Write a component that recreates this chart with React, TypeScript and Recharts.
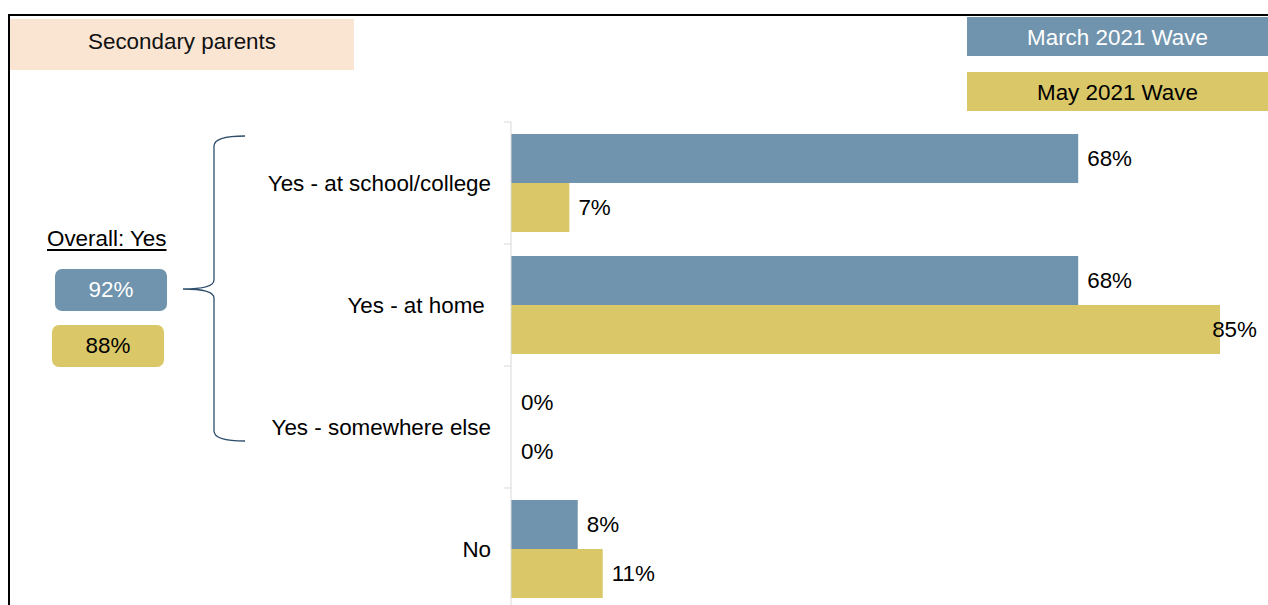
import React from "react";
import { Bar, BarChart, Cell, LabelList, XAxis, YAxis } from "recharts";

const categories = ["Yes - at school/college", "Yes - at home ", "Yes - somewhere else", "No"];
const march2021 = [68, 68, 0, 8];
const may2021 = [7, 85, 0, 11];
const overallYes = [92, 88];
const seriesNames = ["March 2021 Wave", "May 2021 Wave"];

const BLUE = "#7094AD";
const YELLOW = "#DAC868";
const FONT = "'Liberation Sans', Arial, sans-serif";
const FS = 22.4;
const LABEL_LIMIT = 1257;

const data = categories.map((c, i) => ({ category: c, march: march2021[i], may: may2021[i] }));

function CategoryTick(props: any) {
  const { x, y, payload, index } = props;
  const half = payload?.offset || 61;
  const axisX = x + 20;
  return (
    <g>
      <line x1={axisX - 7} y1={y - half} x2={axisX} y2={y - half} stroke="#D9D9D9" />
      {index === categories.length - 1 && (
        <line x1={axisX - 7} y1={y + half} x2={axisX} y2={y + half} stroke="#D9D9D9" />
      )}
      <text
        x={x}
        y={y}
        dy="0.35em"
        textAnchor="end"
        fill="#000"
        fontSize={FS}
        fontFamily={FONT}
        style={{ whiteSpace: "pre" }}
      >
        {payload.value}
      </text>
    </g>
  );
}

function ValueLabel(props: any) {
  const { x, y, width, height, value } = props;
  let tx = x + width + 9;
  let anchor: "start" | "end" = "start";
  if (tx + 44 > LABEL_LIMIT) {
    tx = LABEL_LIMIT;
    anchor = "end";
  }
  return (
    <text x={tx} y={y + height / 2} dy="0.35em" textAnchor={anchor} fill="#000" fontSize={FS} fontFamily={FONT}>
      {`${value}%`}
    </text>
  );
}

export default function App() {
  return (
    <div
      style={{
        position: "fixed",
        left: 0,
        top: 0,
        width: 1268,
        height: 605,
        overflow: "hidden",
        background: "#fff",
        fontFamily: FONT,
      }}
    >
      {/* frame */}
      <div
        style={{
          position: "absolute",
          left: 8,
          top: 14,
          width: 1262,
          height: 600,
          borderTop: "2px solid #000",
          borderLeft: "2px solid #000",
        }}
      />

      {/* title box */}
      <div
        style={{
          position: "absolute",
          left: 10,
          top: 19,
          width: 344,
          height: 51,
          background: "#FAE5D3",
          display: "flex",
          alignItems: "center",
          justifyContent: "center",
          fontSize: FS,
          color: "#111",
          boxSizing: "border-box",
          paddingBottom: 6,
        }}
      >
        Secondary parents
      </div>

      {/* legend */}
      {seriesNames.map((name, i) => (
        <div
          key={name}
          style={{
            position: "absolute",
            left: 967,
            top: i === 0 ? 17 : 72,
            width: 301,
            height: 39,
            background: i === 0 ? BLUE : YELLOW,
            color: i === 0 ? "#fff" : "#000",
            display: "flex",
            alignItems: "center",
            justifyContent: "center",
            fontSize: FS,
            boxSizing: "border-box",
            paddingTop: 3,
          }}
        >
          {name}
        </div>
      ))}

      {/* overall yes */}
      <div
        style={{
          position: "absolute",
          left: 47,
          top: 226,
          fontSize: FS,
          color: "#000",
          textDecoration: "underline",
          textUnderlineOffset: 3,
        }}
      >
        Overall: Yes
      </div>
      {overallYes.map((v, i) => (
        <div
          key={i}
          style={{
            position: "absolute",
            left: i === 0 ? 55 : 52,
            top: i === 0 ? 269 : 325,
            width: 112,
            height: 42,
            borderRadius: 7,
            background: i === 0 ? BLUE : YELLOW,
            color: i === 0 ? "#fff" : "#000",
            display: "flex",
            alignItems: "center",
            justifyContent: "center",
            fontSize: FS,
          }}
        >
          {`${v}%`}
        </div>
      ))}

      {/* brace */}
      <svg style={{ position: "absolute", left: 0, top: 0 }} width={1268} height={605}>
        <path
          d="M245,136 Q214,136 214,146 L214,280 Q214,289 183,289 Q214,289 214,298 L214,431 Q214,441 245,441"
          fill="none"
          stroke="#2E4D6B"
          strokeWidth={1.3}
        />
      </svg>

      <div style={{ position: "absolute", left: 0, top: 0 }}>
        <BarChart
          width={1268}
          height={610}
          data={data}
          layout="vertical"
          margin={{ top: 122, right: 48, bottom: 0, left: 0 }}
          barCategoryGap={12}
          barGap={0}
        >
          <XAxis type="number" domain={[0, 85]} hide />
          <YAxis
            type="category"
            dataKey="category"
            width={511}
            axisLine={{ stroke: "#D9D9D9" }}
            tickLine={false}
            tickSize={0}
            tickMargin={20}
            tick={<CategoryTick />}
            interval={0}
          />
          <Bar dataKey="march" name={seriesNames[0]} fill={BLUE} minPointSize={1} isAnimationActive={false}>
            {march2021.map((v, i) => (
              <Cell key={i} fill={BLUE} fillOpacity={v === 0 ? 0 : 1} />
            ))}
            <LabelList dataKey="march" content={<ValueLabel />} />
          </Bar>
          <Bar dataKey="may" name={seriesNames[1]} fill={YELLOW} minPointSize={1} isAnimationActive={false}>
            {may2021.map((v, i) => (
              <Cell key={i} fill={YELLOW} fillOpacity={v === 0 ? 0 : 1} />
            ))}
            <LabelList dataKey="may" content={<ValueLabel />} />
          </Bar>
        </BarChart>
      </div>
    </div>
  );
}
